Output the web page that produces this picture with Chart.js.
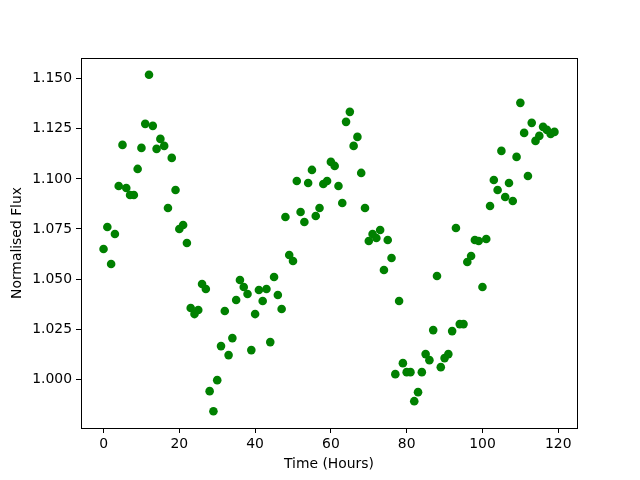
<!DOCTYPE html>
<html>
<head>
<meta charset="utf-8">
<script src="https://cdn.jsdelivr.net/npm/chart.js@4"></script>
<style>
  html, body { margin: 0; padding: 0; background: #fff; }
  #wrap { width: 640px; height: 480px; }
</style>
</head>
<body>
<div id="wrap"><canvas id="fluxChart" width="640" height="480"></canvas></div>
<script>
// hours since start of observation
const hours = [];
for (let h = 0; h < 120; h++) hours.push(h);

// normalised flux
const flux = [
    1.065, 1.076, 1.0575, 1.0725, 1.0965, 1.117, 1.0955, 1.092, 1.092, 1.105,
    1.1155, 1.1275, 1.152, 1.1265, 1.115, 1.120, 1.1165, 1.0855, 1.1105, 1.0945,
    1.075, 1.077, 1.068, 1.0355, 1.0325, 1.0345, 1.0475, 1.045, 0.994, 0.984,
    0.9995, 1.0165, 1.034, 1.012, 1.0205, 1.0395, 1.0495, 1.046, 1.0425, 1.0145,
    1.0325, 1.0445, 1.039, 1.045, 1.0185, 1.051, 1.042, 1.035, 1.081, 1.062,
    1.059, 1.099, 1.0835, 1.0785, 1.098, 1.1045, 1.0815, 1.0855, 1.0975, 1.099,
    1.1085, 1.1065, 1.0965, 1.088, 1.1285, 1.1335, 1.1165, 1.121, 1.103, 1.0855,
    1.069, 1.0725, 1.0705, 1.0745, 1.0545, 1.0695, 1.0605, 1.0025, 1.039, 1.008,
    1.0035, 1.0035, 0.989, 0.9935, 1.0035, 1.0125, 1.0095, 1.0245, 1.0515, 1.006,
    1.0105, 1.0125, 1.024, 1.0755, 1.0275, 1.0275, 1.0585, 1.0615, 1.0695, 1.069,
    1.046, 1.070, 1.0865, 1.0995, 1.0945, 1.114, 1.091, 1.098, 1.089, 1.111,
    1.138, 1.123, 1.1015, 1.128, 1.119, 1.1215, 1.126, 1.1245, 1.1225, 1.1235
];

const xTicks = [0, 20, 40, 60, 80, 100, 120];
const yTicks = [1.000, 1.025, 1.050, 1.075, 1.100, 1.125, 1.150];

Chart.defaults.color = '#000';
Chart.defaults.font.family = 'DejaVu Sans';
Chart.defaults.font.size = 13.9;

// matplotlib style box round the plot area
const frame = {
    id: 'frame',
    afterDraw(chart) {
        const a = chart.chartArea;
        const ctx = chart.ctx;
        ctx.save();
        ctx.strokeStyle = '#000';
        ctx.lineWidth = 1;
        ctx.strokeRect(a.left + 0.5, a.top + 0.5, a.right - a.left, a.bottom - a.top);
        ctx.restore();
    }
};

const points = hours.map((h, i) => ({ x: h, y: flux[i] }));

new Chart(document.getElementById('fluxChart').getContext('2d'), {
    type: 'scatter',
    data: {
        datasets: [{
            data: points,
            backgroundColor: '#008000',
            borderColor: '#008000',
            borderWidth: 0,
            pointRadius: 4.3,
            pointHoverRadius: 4.3
        }]
    },
    options: {
        responsive: false,
        animation: false,
        layout: { padding: { top: 58, right: 63, left: 0, bottom: 0 } },
        plugins: { legend: { display: false }, tooltip: { enabled: false } },
        scales: {
            x: {
                type: 'linear',
                min: -5.95,
                max: 124.95,
                afterBuildTicks: axis => { axis.ticks = xTicks.map(v => ({ value: v })); },
                afterFit: axis => { axis.height = 52; },
                grid: { display: true, drawOnChartArea: false, drawTicks: true, tickLength: 5, color: '#000' },
                border: { display: true, color: '#000' },
                ticks: { padding: 3, maxRotation: 0, callback: v => String(v) },
                title: { display: true, text: 'Time (Hours)', padding: { top: 7, bottom: 7 } }
            },
            y: {
                type: 'linear',
                min: 0.9756,
                max: 1.1604,
                afterBuildTicks: axis => { axis.ticks = yTicks.map(v => ({ value: v })); },
                afterFit: axis => { axis.width = 81; },
                grid: { display: true, drawOnChartArea: false, drawTicks: true, tickLength: 5, color: '#000' },
                border: { display: true, color: '#000' },
                ticks: { padding: 4, callback: v => v.toFixed(3) },
                title: { display: true, text: 'Normalised Flux', padding: { top: 9, bottom: 9 } }
            }
        }
    },
    plugins: [frame]
});
</script>
</body>
</html>
